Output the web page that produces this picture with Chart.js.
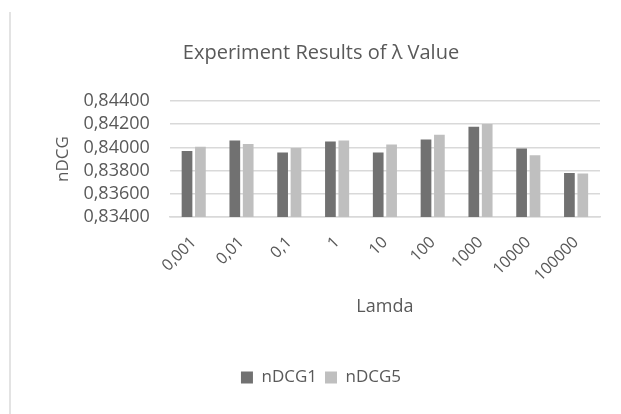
<!DOCTYPE html>
<html>
<head>
<meta charset="utf-8">
<script src="https://cdn.jsdelivr.net/npm/chart.js@4"></script>
<style>
  html, body { margin: 0; padding: 0; background: #fff; }
  #marco { position: absolute; left: 9px; top: 12px; width: 2px; height: 402px; background: #e3e3e3; }
  #caja { position: absolute; left: 0; top: 0; width: 621px; height: 414px; }
</style>
</head>
<body>
<div id="marco"></div>
<div id="caja"><canvas id="grafica" width="621" height="414"></canvas></div>
<script>
const lambdas = ['0,001', '0,01', '0,1', '1', '10', '100', '1000', '10000', '100000'];
const ndcg1 = [0.83968, 0.84059, 0.83956, 0.84050, 0.83955, 0.84069, 0.84178, 0.83991, 0.83780];
const ndcg5 = [0.84006, 0.84029, 0.83994, 0.84059, 0.84024, 0.84108, 0.84201, 0.83932, 0.83775];
const yTicks = [0.834, 0.836, 0.838, 0.840, 0.842, 0.844];

const fuente = '"Open Sans", sans-serif';
const gris = '#595959';

new Chart(document.getElementById('grafica').getContext('2d'), {
    type: 'bar',
    data: {
        labels: lambdas,
        datasets: [{
            label: 'nDCG1',
            data: ndcg1,
            backgroundColor: '#717171',
            categoryPercentage: 0.56,
            barPercentage: 0.8
        }, {
            label: 'nDCG5',
            data: ndcg5,
            backgroundColor: '#bfbfbf',
            categoryPercentage: 0.56,
            barPercentage: 0.8
        }]
    },
    options: {
        responsive: false,
        animation: false,
        devicePixelRatio: 1,
        layout: { padding: { left: 42, right: 21, top: 28, bottom: 18 } },
        plugins: {
            title: {
                display: true,
                text: 'Experiment Results of λ Value',
                color: gris,
                font: { family: fuente, size: 20, weight: 'normal' },
                padding: { top: 13, bottom: 36 }
            },
            legend: {
                position: 'bottom',
                labels: {
                    color: gris,
                    font: { family: fuente, size: 17 },
                    boxWidth: 12,
                    boxHeight: 12,
                    padding: 8
                }
            },
            tooltip: { enabled: false }
        },
        scales: {
            x: {
                grid: { display: false, drawTicks: false },
                border: { color: '#d9d9d9', width: 1.5 },
                ticks: {
                    color: gris,
                    font: { family: fuente, size: 16 },
                    minRotation: 45,
                    maxRotation: 45,
                    padding: 16
                },
                title: {
                    display: true,
                    text: 'Lamda',
                    color: gris,
                    font: { family: fuente, size: 18 },
                    padding: { top: -5, bottom: 43 }
                }
            },
            y: {
                min: yTicks[0],
                max: yTicks[yTicks.length - 1],
                afterBuildTicks: (escala) => {
                    escala.ticks = yTicks.map(v => ({ value: v }));
                },
                grid: { color: '#d9d9d9', lineWidth: 1.5, drawTicks: false },
                border: { display: false },
                ticks: {
                    color: gris,
                    font: { family: fuente, size: 18 },
                    padding: 20,
                    autoSkip: false,
                    callback: (v) => Number(v).toFixed(5).replace('.', ',')
                },
                title: {
                    display: true,
                    text: 'nDCG',
                    color: gris,
                    font: { family: fuente, size: 17 },
                    padding: { top: 11, bottom: -10 }
                }
            }
        }
    }
});
</script>
</body>
</html>
